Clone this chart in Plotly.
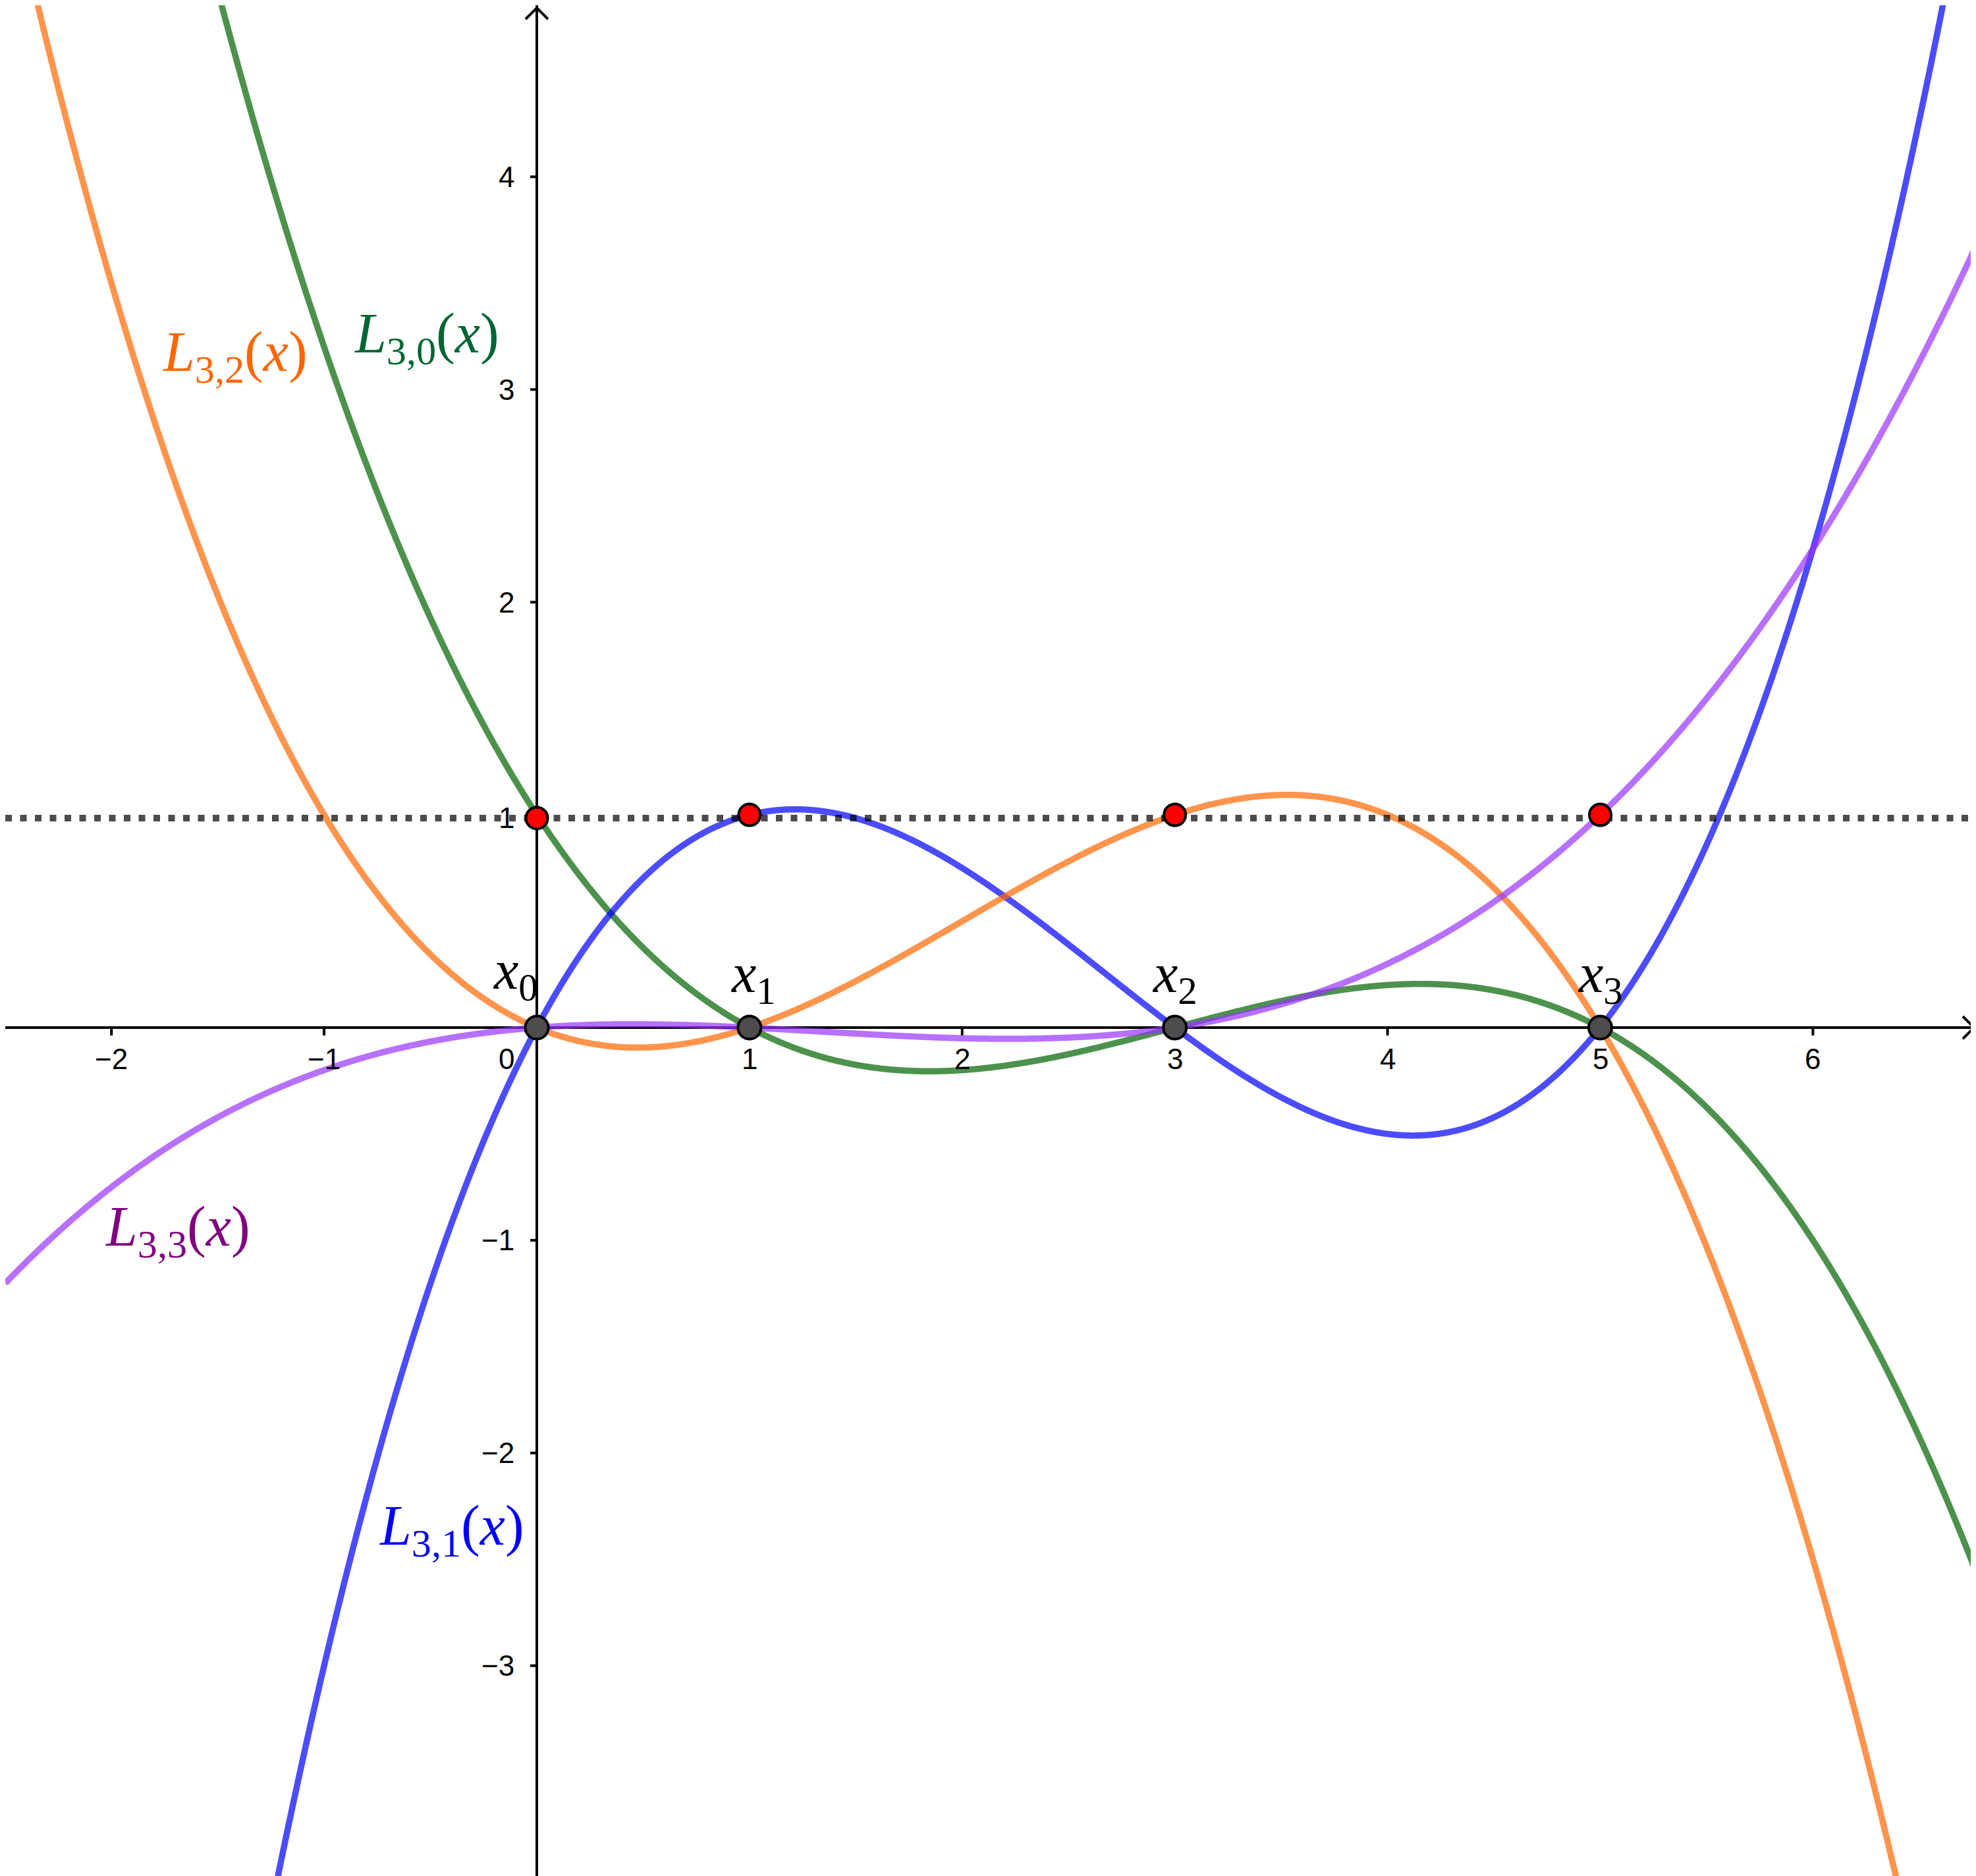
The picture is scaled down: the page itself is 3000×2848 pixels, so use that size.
import numpy as np
import plotly.graph_objects as go

# ---- data ----
nodes = [0, 1, 3, 5]
node_labels = ["x<sub>0</sub>", "x<sub>1</sub>", "x<sub>2</sub>", "x<sub>3</sub>"]
basis_names = ["L<sub>3,0</sub>", "L<sub>3,1</sub>", "L<sub>3,2</sub>", "L<sub>3,3</sub>"]
curve_colors = ["rgba(0,100,0,0.7)", "rgba(0,0,255,0.7)", "rgba(255,102,0,0.7)", "rgba(153,51,255,0.7)"]
label_colors = ["#006633", "#0000ff", "#ff6600", "#800080"]
label_pos = [(-0.52, 3.245), (-0.40, -2.36), (-1.42, 3.16), (-1.69, -0.955)]
draw_order = [0, 1, 2, 3]
x_ticks = [-2, -1, 1, 2, 3, 4, 5, 6]
y_ticks = [-3, -2, -1, 1, 2, 3, 4]
red_y = [0.985, 1.0, 1.0, 1.0]   # red points
dotted_level = 0.985             # dotted guide line

PX = 1 / 322.9  # one pixel in data units
# page body has an 8px margin: figure occupies pixels 8..3000
X0_PIX, Y0_PIX = 815 - 8, 1560 - 8
FIG_W, FIG_H = 2992, 2840
XMIN, XMAX = -X0_PIX * PX, (FIG_W - X0_PIX) * PX
YMAX, YMIN = Y0_PIX * PX, -(FIG_H - Y0_PIX) * PX


def lagrange(k, x):
    y = np.ones_like(x)
    for j, xj in enumerate(nodes):
        if j != k:
            y = y * (x - xj) / (nodes[k] - xj)
    return y


xs = np.linspace(XMIN, XMAX, 3000)
fig = go.Figure()

for k in draw_order:
    fig.add_trace(go.Scatter(x=xs, y=lagrange(k, xs), mode="lines",
                             line=dict(color=curve_colors[k], width=9.5, simplify=False),
                             hoverinfo="skip", showlegend=False))

# dotted level line
fig.add_trace(go.Scatter(x=[XMIN, XMAX], y=[dotted_level, dotted_level], mode="lines",
                         line=dict(color="rgba(0,0,0,0.7)", width=10, dash="10px,12.5px"),
                         hoverinfo="skip", showlegend=False))

# red points L_k(x_k) = 1
fig.add_trace(go.Scatter(x=nodes, y=red_y, mode="markers",
                         marker=dict(size=33, color="#ff0000", line=dict(color="black", width=4)),
                         cliponaxis=False, hoverinfo="skip", showlegend=False))

# nodes on the x axis
fig.add_trace(go.Scatter(x=nodes, y=[0] * len(nodes), mode="markers",
                         marker=dict(size=35, color="#4d4d4d", line=dict(color="black", width=4)),
                         cliponaxis=False, hoverinfo="skip", showlegend=False))

shapes = []
axis_line = dict(color="black", width=4)
# axes
shapes.append(dict(type="line", xref="x", yref="y", x0=XMIN, x1=XMAX, y0=0, y1=0, line=axis_line, layer="below"))
shapes.append(dict(type="line", xref="x", yref="y", x0=0, x1=0, y0=YMIN, y1=YMAX, line=axis_line, layer="below"))
# arrowheads
a = 17 * PX
shapes.append(dict(type="path", xref="x", yref="y", layer="below",
                   path=f"M {XMAX - a - 3*PX} {a} L {XMAX - 3*PX} 0 L {XMAX - a - 3*PX} {-a}",
                   line=axis_line))
shapes.append(dict(type="path", xref="x", yref="y", layer="below",
                   path=f"M {-a} {YMAX - a - 4*PX} L 0 {YMAX - 4*PX} L {a} {YMAX - a - 4*PX}",
                   line=axis_line))
# ticks
for t in x_ticks:
    shapes.append(dict(type="line", xref="x", yref="y", x0=t, x1=t, y0=0, y1=-12 * PX, line=axis_line, layer="below"))
for t in y_ticks:
    shapes.append(dict(type="line", xref="x", yref="y", x0=0, x1=-10 * PX, y0=t, y1=t, line=axis_line, layer="below"))

annotations = []
tick_font = dict(family="Liberation Sans, Arial, sans-serif", size=44, color="black")


def fmt(v):
    return ("\u2212" + str(-v)) if v < 0 else str(v)


for t in x_ticks:
    annotations.append(dict(x=t, y=-47 * PX, xref="x", yref="y", text=fmt(t), showarrow=False,
                            xanchor="center", yanchor="middle", font=tick_font))
for t in y_ticks:
    annotations.append(dict(x=-32 * PX, y=t - (4 * PX if t == 1 else 0), xref="x", yref="y", text=fmt(t),
                            showarrow=False, xanchor="right", yanchor="middle", font=tick_font))
annotations.append(dict(x=-32 * PX, y=-47 * PX, xref="x", yref="y", text="0", showarrow=False,
                        xanchor="right", yanchor="middle", font=tick_font))

serif = "Liberation Serif, Times New Roman, serif"
node_label_x = [-0.10, 1.016, 2.998, 5.0]
node_label_y = [0.25, 0.235, 0.235, 0.235]
for i, xv in enumerate(nodes):
    annotations.append(dict(x=node_label_x[i], y=node_label_y[i], xref="x", yref="y",
                            text="<i>" + node_labels[i].replace("x<sub>", "x</i><sub>"),
                            showarrow=False, xanchor="center", yanchor="middle",
                            font=dict(family=serif, size=84, color="black")))

for k in range(len(nodes)):
    lx, ly = label_pos[k]
    txt = "<i>" + basis_names[k].replace("L<sub>", "L</i><sub>") + "(<i>x</i>)"
    annotations.append(dict(x=lx, y=ly, xref="x", yref="y", text=txt, showarrow=False,
                            xanchor="center", yanchor="middle",
                            font=dict(family=serif, size=86, color=label_colors[k])))

fig.update_layout(
    width=FIG_W, height=FIG_H,
    margin=dict(l=0, r=0, t=0, b=0),
    paper_bgcolor="white", plot_bgcolor="white",
    xaxis=dict(range=[XMIN, XMAX], visible=False, fixedrange=True),
    yaxis=dict(range=[YMIN, YMAX], visible=False, fixedrange=True),
    shapes=shapes, annotations=annotations, showlegend=False,
)

fig.write_html("out.html")
